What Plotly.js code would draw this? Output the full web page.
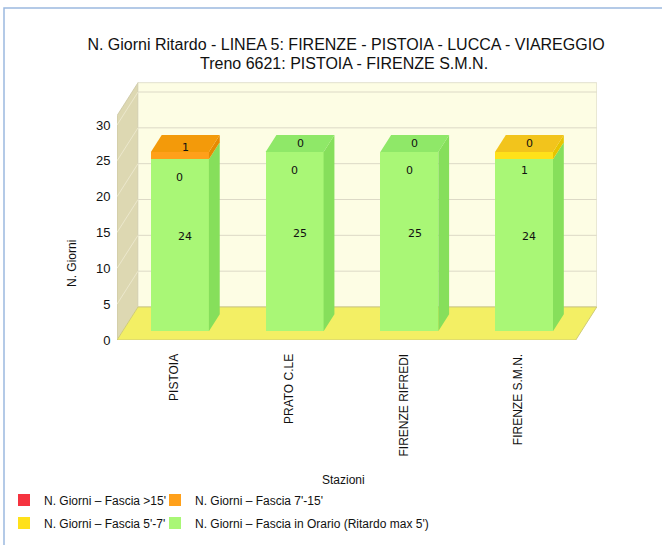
<!DOCTYPE html>
<html>
<head>
<meta charset="utf-8">
<script src="https://cdn.plot.ly/plotly-3.0.1.min.js"></script>
<style>
  html, body { margin: 0; padding: 0; background: #ffffff; }
  #chart { width: 662px; height: 545px; }
</style>
</head>
<body>
<div id="chart"></div>
<script>
// ---- data -------------------------------------------------------------
const stations = ['PISTOIA', 'PRATO C.LE', 'FIRENZE RIFREDI', 'FIRENZE S.M.N.'];
const nameOver15 = "N. Giorni \u2013 Fascia >15'";
const name7to15 = "N. Giorni \u2013 Fascia 7'-15'";
const name5to7 = "N. Giorni \u2013 Fascia 5'-7'";
const nameOnTime = "N. Giorni \u2013 Fascia in Orario (Ritardo max 5')";
const onTime = [24, 25, 25, 24];
const late5to7 = [0, 0, 0, 1];
const late7to15 = [1, 0, 0, 0];
const lateOver15 = [0, 0, 0, 0];
const yTicks = [0, 5, 10, 15, 20, 25, 30];
const titleLine1 = 'N. Giorni Ritardo - LINEA 5: FIRENZE - PISTOIA - LUCCA - VIAREGGIO';
const titleLine2 = 'Treno 6621: PISTOIA - FIRENZE S.M.N.';

// ---- geometry of the oblique 3D box -----------------------------------
const W = 662, H = 545;
const M = { l: 117, r: 65, t: 82, b: 205 };
const XR = [-0.5, 3.685], YR = [0, 36];
const pxPerX = (W - M.l - M.r) / (XR[1] - XR[0]);
const pxPerY = (H - M.t - M.b) / (YR[1] - YR[0]);
const DX = 21 / pxPerX;       // full depth, horizontal part (x units)
const DY = 33 / pxPerY;       // full depth, vertical part (y units)
const WALL_H = 31.3;
const BAR_W = 58 / pxPerX;
const D0 = 0.265, D1 = 0.78, DM = (D0 + D1) / 2;
const X0 = -0.5, X1 = 3.5;

// stacking order, bottom to top
const stack = [
  { name: nameOnTime, vals: onTime,     front: '#a9f776', side: '#86df5b', top: '#8fe868', label: 'center', legend: 'legend4' },
  { name: name5to7,   vals: late5to7,   front: '#ffe11a', side: '#e6c400', top: '#f2c41c', label: 'front',  legend: 'legend3' },
  { name: name7to15,  vals: late7to15,  front: '#ffa01a', side: '#e68a00', top: '#f39a0a', label: 'center', legend: 'legend2' },
  { name: nameOver15, vals: lateOver15, front: '#f5333f', side: '#d42a2a', top: '#ea3535', label: 'none',   legend: 'legend' }
];

// cumulative bases
const n = stations.length;
const bases = [];
let run = new Array(n).fill(0);
stack.forEach(s => { bases.push(run.slice()); run = run.map((v, i) => v + s.vals[i]); });

// ---- walls, floor and grid as background shapes ----------------------
const P = pts => 'M' + pts.map(p => p[0] + ',' + p[1]).join('L') + 'Z';
const shapes = [];
shapes.push({ type: 'path', xref: 'x', yref: 'y', layer: 'below',
  path: P([[X0, 0], [X0, WALL_H], [X0 + DX, WALL_H + DY], [X0 + DX, DY]]),
  fillcolor: '#ddd8b2', line: { color: '#c9c4a0', width: 0.8 } });
shapes.push({ type: 'path', xref: 'x', yref: 'y', layer: 'below',
  path: P([[X0 + DX, DY], [X1 + DX, DY], [X1 + DX, WALL_H + DY], [X0 + DX, WALL_H + DY]]),
  fillcolor: '#fdfde4', line: { color: '#dcd9c4', width: 0.8 } });
yTicks.forEach(t => {
  shapes.push({ type: 'line', xref: 'x', yref: 'y', layer: 'below',
    x0: X0 + DX, y0: t + DY, x1: X1 + DX, y1: t + DY, line: { color: '#dcd9c6', width: 1 } });
  shapes.push({ type: 'line', xref: 'x', yref: 'y', layer: 'below',
    x0: X0, y0: t, x1: X0 + DX, y1: t + DY, line: { color: '#ebe7cc', width: 1 } });
});
shapes.push({ type: 'path', xref: 'x', yref: 'y', layer: 'below',
  path: P([[X0, 0], [X1, 0], [X1 + DX, DY], [X0 + DX, DY]]),
  fillcolor: '#f3ef64', line: { color: '#cfcb78', width: 1 } });

// outer frame (top and left edges)
const toPaperX = px => (px - M.l) / (W - M.l - M.r);
const toPaperY = py => (H - M.b - py) / (H - M.t - M.b);
shapes.push({ type: 'path', xref: 'paper', yref: 'paper', layer: 'above',
  path: 'M' + toPaperX(4) + ',' + toPaperY(550) + 'L' + toPaperX(4) + ',' + toPaperY(8) + 'L' + toPaperX(670) + ',' + toPaperY(8),
  line: { color: '#9cb9e0', width: 1.5 } });

// ---- bars -------------------------------------------------------------
const traces = [];
stack.forEach((s, k) => {
  traces.push({
    type: 'bar', name: s.name, legend: s.legend,
    x: stations.map((_, i) => i + D0 * DX),
    y: s.vals,
    base: bases[k].map(b => b + D0 * DY),
    width: BAR_W,
    marker: { color: s.front, line: { width: 0 } },
    hoverinfo: 'skip'
  });
});

// right side faces
stack.forEach((s, k) => {
  const xs = [], ys = [];
  s.vals.forEach((v, i) => {
    if (v <= 0) return;
    const xr = i + BAR_W / 2;
    const b = bases[k][i], t = b + v;
    xs.push(xr + D0 * DX, xr + D1 * DX, xr + D1 * DX, xr + D0 * DX, xr + D0 * DX, null);
    ys.push(b + D0 * DY, b + D1 * DY, t + D1 * DY, t + D0 * DY, b + D0 * DY, null);
  });
  traces.push({ type: 'scatter', mode: 'lines', x: xs, y: ys, fill: 'toself',
    fillcolor: s.side, line: { width: 0 }, showlegend: false, hoverinfo: 'skip' });
});

// top faces, coloured by the highest non-empty segment
stack.forEach((s, k) => {
  const xs = [], ys = [];
  s.vals.forEach((v, i) => {
    if (v <= 0) return;
    const higher = stack.slice(k + 1).some(o => o.vals[i] > 0);
    if (higher) return;
    const xl = i - BAR_W / 2, xr = i + BAR_W / 2, t = bases[k][i] + v;
    xs.push(xl + D0 * DX, xr + D0 * DX, xr + D1 * DX, xl + D1 * DX, xl + D0 * DX, null);
    ys.push(t + D0 * DY, t + D0 * DY, t + D1 * DY, t + D1 * DY, t + D0 * DY, null);
  });
  traces.push({ type: 'scatter', mode: 'lines', x: xs, y: ys, fill: 'toself',
    fillcolor: s.top, line: { width: 0 }, showlegend: false, hoverinfo: 'skip' });
});

// ---- value labels -----------------------------------------------------
const annotations = [];
const labelFont = { family: 'DejaVu Sans', size: 11, color: '#111111' };
stack.forEach((s, k) => {
  s.vals.forEach((v, i) => {
    if (s.label === 'none') return;
    if (s.label === 'center') {
      annotations.push({ xref: 'x', yref: 'y', x: i + DM * DX, y: bases[k][i] + v / 2 + DM * DY,
        xanchor: 'center', yanchor: 'middle',
        text: String(v), showarrow: false, font: labelFont });
    } else {
      annotations.push({ xref: 'x', yref: 'y', x: i + D0 * DX, y: bases[k][i] + v + D0 * DY,
        xanchor: 'center', yanchor: 'middle',
        yshift: -18, text: String(v), showarrow: false, font: labelFont });
    }
  });
});

// second title line and axis titles
const textFont = { family: 'Liberation Sans', size: 12, color: '#111111' };
const titleFont = { family: 'Liberation Sans', size: 16, color: '#111111' };
annotations.push({ xref: 'paper', yref: 'paper', x: toPaperX(344), y: toPaperY(63),
  xanchor: 'center', yanchor: 'middle', text: titleLine2, showarrow: false,
  font: titleFont });
annotations.push({ xref: 'paper', yref: 'paper', x: toPaperX(72), y: toPaperY(264),
  xanchor: 'center', yanchor: 'middle',
  text: 'N. Giorni', textangle: -90, showarrow: false, font: textFont });
annotations.push({ xref: 'paper', yref: 'paper', x: toPaperX(343), y: toPaperY(480),
  xanchor: 'center', yanchor: 'middle',
  text: 'Stazioni', showarrow: false, font: textFont });

// one legend box per entry, laid out in two columns
const legendAt = (px, py) => ({
  orientation: 'h', xref: 'container', yref: 'container', xanchor: 'left', yanchor: 'middle',
  x: px / W, y: 1 - py / H, bgcolor: 'rgba(0,0,0,0)',
  font: textFont
});

const layout = {
  width: W, height: H,
  margin: M,
  paper_bgcolor: '#ffffff', plot_bgcolor: 'rgba(0,0,0,0)',
  barmode: 'overlay', bargap: 0,
  title: {
    text: titleLine1,
    x: toPaperX(346), xanchor: 'center', xref: 'paper',
    y: 1 - 44 / H, yref: 'container', yanchor: 'middle',
    font: titleFont
  },
  xaxis: {
    range: XR, tickvals: [0, 1, 2, 3], ticktext: stations, tickangle: -90,
    showgrid: false, zeroline: false, showline: false,
    ticks: 'outside', ticklen: 8, tickcolor: 'rgba(0,0,0,0)',
    tickfont: { family: 'Liberation Sans', size: 12, color: '#111111' }, fixedrange: true
  },
  yaxis: {
    range: YR, tickvals: yTicks, showgrid: false, zeroline: false, showline: false,
    ticks: 'outside', ticklen: 3, tickcolor: 'rgba(0,0,0,0)',
    tickfont: { family: 'Liberation Sans', size: 13, color: '#111111' }, fixedrange: true
  },
  legend: legendAt(4, 500),
  legend2: legendAt(155, 500),
  legend3: legendAt(4, 523),
  legend4: legendAt(155, 523),
  shapes: shapes,
  annotations: annotations
};

Plotly.newPlot('chart', traces, layout, { displayModeBar: false, staticPlot: true });
</script>
</body>
</html>
